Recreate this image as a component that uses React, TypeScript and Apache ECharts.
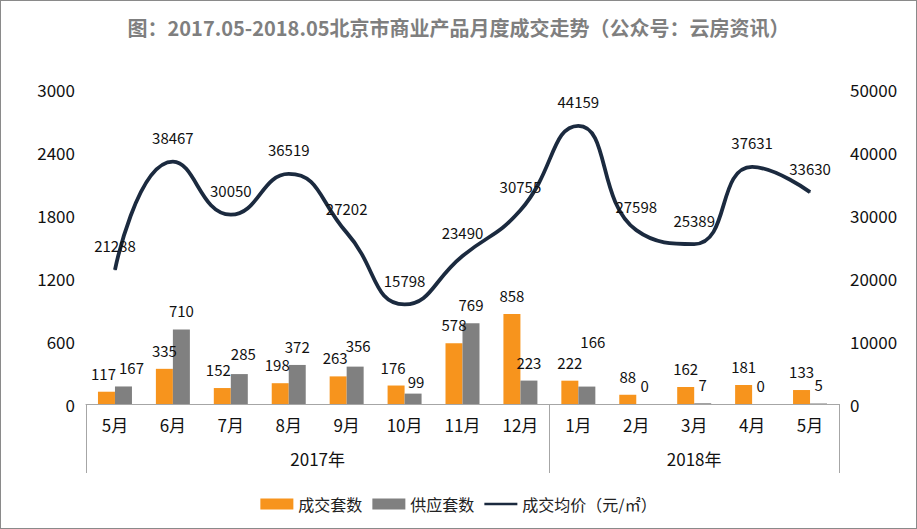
import React, { useEffect, useRef } from "react";
import * as echarts from "echarts";

const titleText = "图：2017.05-2018.05北京市商业产品月度成交走势（公众号：云房资讯）";
const months = ["5月", "6月", "7月", "8月", "9月", "10月", "11月", "12月", "1月", "2月", "3月", "4月", "5月"];
const years = ["2017年", "2018年"];
const yearSpans = [8, 5];
const dealUnits = [117, 335, 152, 198, 263, 176, 578, 858, 222, 88, 162, 181, 133];
const supplyUnits = [167, 710, 285, 372, 356, 99, 769, 223, 166, 0, 7, 0, 5];
const avgPrice = [21288, 38467, 30050, 36519, 27202, 15798, 23490, 30755, 44159, 27598, 25389, 37631, 33630];
const seriesNames = ["成交套数", "供应套数", "成交均价（元/㎡）"];
const supplyLabelShift: Record<number, [number, number]> = { 0: [8, 0], 2: [4, -2], 4: [3, -3], 5: [3, 6], 8: [6, -27] };
const dealLabelShift: Record<number, [number, number]> = { 0: [-3, 0], 2: [-4, 0], 3: [-3, 0], 4: [-3, 0], 5: [-3, 0] };

const FONT = "'Noto Sans CJK SC', 'Noto Sans', sans-serif";

export default function App() {
  const ref = useRef<HTMLDivElement>(null);
  useEffect(() => {
    if (!ref.current) return;
    const chart = echarts.init(ref.current, undefined, { renderer: "svg" });
    const bounds: number[] = [0];
    const centers: number[] = [];
    yearSpans.forEach((s) => {
      const start = bounds[bounds.length - 1];
      centers.push(start + s / 2);
      bounds.push(start + s);
    });
    const total = bounds[bounds.length - 1];
    const axisGray = "#a6a6a6";
    const withShift = (arr: number[], shifts: Record<number, [number, number]>) =>
      arr.map((v, i) => (shifts[i] ? { value: v, label: { offset: shifts[i] } } : v));
    const barLabel = { show: true, position: "top", distance: 11, fontFamily: FONT, fontSize: 15, color: "#111" };
    chart.setOption({
      animation: false,
      backgroundColor: "#ffffff",
      title: {
        text: titleText,
        left: "center",
        top: 12,
        textStyle: { fontFamily: FONT, fontSize: 20, fontWeight: "bold", color: "#7f7f7f" },
      },
      legend: {
        bottom: 12,
        left: "center",
        itemWidth: 33,
        itemHeight: 11,
        itemGap: 10,
        textStyle: { fontFamily: FONT, fontSize: 16, color: "#222" },
        data: [
          { name: seriesNames[0], icon: "rect" },
          { name: seriesNames[1], icon: "rect" },
          { name: seriesNames[2], icon: "path://M20,0 M20,12 M0,4.5 L40,4.5 L40,7.5 L0,7.5 Z" },
        ],
      },
      grid: { left: 86, right: 78, top: 89, bottom: 125, containLabel: false },
      xAxis: [
        {
          type: "category",
          data: months,
          position: "bottom",
          axisLine: { lineStyle: { color: axisGray } },
          axisTick: { length: 35, lineStyle: { color: axisGray } },
          axisLabel: { fontFamily: FONT, fontSize: 17, color: "#111", margin: 12, interval: 0 },
        },
        {
          type: "value",
          min: 0,
          max: total,
          position: "bottom",
          splitLine: { show: false },
          axisLine: { show: false },
          axisTick: { show: true, length: 69, customValues: bounds, lineStyle: { color: axisGray } },
          axisLabel: {
            customValues: centers,
            fontFamily: FONT,
            fontSize: 17,
            color: "#111",
            margin: 46,
            formatter: (v: number) => {
              const i = centers.findIndex((c) => Math.abs(c - v) < 1e-6);
              return i >= 0 ? years[i] : "";
            },
          },
        },
      ],
      yAxis: [
        {
          type: "value",
          min: 0,
          max: 3000,
          interval: 600,
          splitLine: { show: false },
          axisLine: { show: false },
          axisTick: { show: false },
          axisLabel: { fontFamily: FONT, fontSize: 17, color: "#111", margin: 11, formatter: (v: number) => String(v) },
        },
        {
          type: "value",
          min: 0,
          max: 50000,
          interval: 10000,
          splitLine: { show: false },
          axisLine: { show: false },
          axisTick: { show: false },
          axisLabel: { fontFamily: FONT, fontSize: 17, color: "#111", margin: 11, formatter: (v: number) => String(v) },
        },
      ],
      series: [
        {
          name: seriesNames[0],
          type: "bar",
          xAxisIndex: 0,
          yAxisIndex: 0,
          data: withShift(dealUnits, dealLabelShift),
          barWidth: 17,
          barGap: "0%",
          itemStyle: { color: "#f7941d" },
          label: barLabel,
        },
        {
          name: seriesNames[1],
          type: "bar",
          xAxisIndex: 0,
          yAxisIndex: 0,
          data: withShift(supplyUnits, supplyLabelShift),
          barWidth: 17,
          barGap: "0%",
          itemStyle: { color: "#808080" },
          label: barLabel,
        },
        {
          name: seriesNames[2],
          type: "line",
          xAxisIndex: 0,
          yAxisIndex: 1,
          data: avgPrice,
          smooth: 0.5,
          symbol: "circle",
          symbolSize: 1,
          color: "#1b2a3f",
          lineStyle: { width: 3.8, color: "#1b2a3f" },
          itemStyle: { color: "#1b2a3f" },
          label: { show: true, position: "top", distance: 16, fontFamily: FONT, fontSize: 15, color: "#111" },
        },
      ],
    });
    return () => chart.dispose();
  }, []);
  return (
    <div style={{ position: "absolute", left: 0, top: 0, width: 917, height: 529 }}>
      <div ref={ref} style={{ width: 917, height: 529 }} />
      <div
        style={{
          position: "absolute",
          left: 0,
          top: 0,
          width: 917,
          height: 529,
          boxSizing: "border-box",
          border: "1px solid #8a8a8a",
          pointerEvents: "none",
        }}
      />
    </div>
  );
}
